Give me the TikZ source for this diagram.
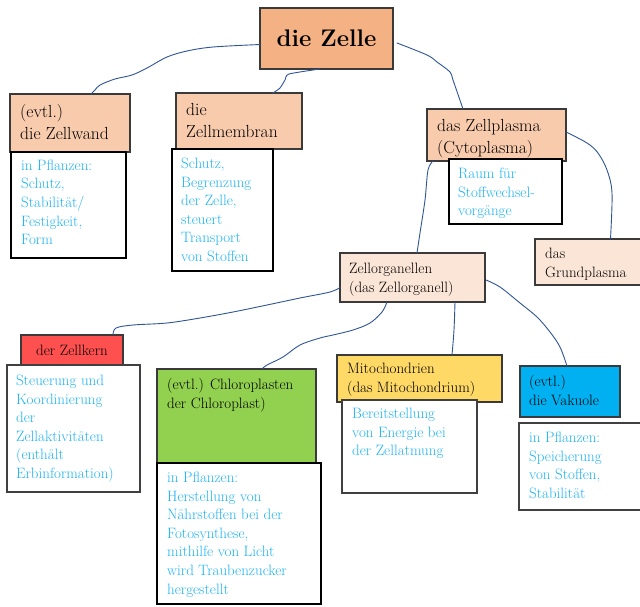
\documentclass[tikz,border=0pt]{standalone}
\usepackage{xcolor}
\definecolor{cZelle}{HTML}{F4B183}
\definecolor{cOrange}{HTML}{F8CBAD}
\definecolor{cLight}{HTML}{FBE5D6}
\definecolor{cRed}{HTML}{FF5050}
\definecolor{cGreen}{HTML}{92D050}
\definecolor{cYellow}{HTML}{FFD966}
\definecolor{cBlue}{HTML}{00B0F0}
\definecolor{cDesc}{HTML}{1CB4F4}
\definecolor{cLine}{HTML}{2F5597}
\definecolor{cBorder}{HTML}{3A3A3A}
\newcommand{\myfontA}{\fontsize{17.5}{22}\selectfont}
\newcommand{\myfontB}{\fontsize{15}{18.6}\selectfont}
\newcommand{\tp}{\rule{0pt}{0.75em}}
\begin{document}
\begin{tikzpicture}[x=1pt,y=-1pt,
  box/.style={draw=cBorder, line width=1.1pt, anchor=north west, inner sep=0pt, outer sep=0pt},
  descbox/.style={box, draw=black, fill=white},
  lblA/.style={anchor=north west, inner sep=0pt, align=left, font=\myfontA, text=black},
  lblB/.style={anchor=north west, inner sep=0pt, align=left, font=\myfontB, text=black},
  lblD/.style={anchor=north west, inner sep=0pt, align=left, font=\myfontB, text=cDesc},
  conn/.style={draw=cLine, line width=0.9pt, line cap=round, line join=round}]
\useasboundingbox (0,0) rectangle (640,606);
\fill[white] (0,0) rectangle (640,606);

% boxes
\node[box, fill=cZelle, minimum width=133pt, minimum height=61pt, font=\fontsize{24}{28}\selectfont\bfseries] (zelle) at (260,8) {die Zelle};
\node[box, fill=cOrange, minimum width=120pt, minimum height=58pt] (zellwand) at (10,94) {};
\node[descbox, minimum width=115pt, minimum height=106pt] (zellwandD) at (11,152) {};
\node[box, fill=cOrange, minimum width=126pt, minimum height=56pt] (zellmembran) at (176,93) {};
\node[descbox, minimum width=101pt, minimum height=122pt] (zellmembranD) at (172,149) {};
\node[box, fill=cOrange, minimum width=139pt, minimum height=52pt] (zellplasma) at (427,109) {};
\node[descbox, minimum width=113pt, minimum height=65pt] (raumD) at (449,159) {};
\node[box, fill=cLight, minimum width=108pt, minimum height=46pt] (grund) at (535,239) {};
\node[box, fill=cLight, minimum width=145pt, minimum height=49pt] (organ) at (340,253) {};
\node[box, fill=cRed, minimum width=102pt, minimum height=30pt, font=\myfontB] (kern) at (21,335) {der Zellkern};
\node[descbox, draw=black!75, minimum width=133pt, minimum height=127pt] (kernD) at (7,365) {};
\node[box, fill=cGreen, minimum width=159pt, minimum height=94pt] (chloro) at (157,369) {};
\node[descbox, minimum width=164pt, minimum height=141pt] (chloroD) at (157,463) {};
\node[box, fill=cYellow, minimum width=165pt, minimum height=47pt] (mito) at (337,355) {};
\node[descbox, draw=black!75, minimum width=135pt, minimum height=93pt] (mitoD) at (342,400) {};
\node[box, fill=cBlue, minimum width=100pt, minimum height=51pt] (vak) at (520,366) {};
\node[descbox, draw=black!75, minimum width=125pt, minimum height=87pt] (vakD) at (519,423) {};

% texts
\node[lblA] (tZellwand) at (20,104) {\tp(evtl.)\\die Zellwand};
\node[lblD] (tZellwandD) at (21,158.75) {\tp in Pflanzen:\\Schutz,\\Stabilität/\\Festigkeit,\\Form};
\node[lblA] (tZellmembran) at (186,102) {\tp die\\Zellmembran};
\node[lblD] (tZellmembranD) at (181,157) {\tp Schutz,\\Begrenzung\\der Zelle,\\steuert\\Transport\\von Stoffen};
\node[lblA] (tZellplasma) at (437,118) {\tp das Zellplasma\\(Cytoplasma)};
\node[lblD] (tRaum) at (458,167) {\tp Raum für\\Stoffwechsel-\\vorgänge};
\node[lblB] (tGrund) at (545,247) {\tp das\\Grundplasma};
\node[lblB] (tOrgan) at (349,262) {\tp Zellorganellen\\(das Zellorganell)};
\node[lblD] (tKernD) at (16,374) {\tp Steuerung und\\Koordinierung\\der\\Zellaktivitäten\\(enthält\\Erbinformation)};
\node[lblB] (tChloro) at (167,378) {\tp(evtl.) Chloroplasten\\der Chloroplast)};
\node[lblD] (tChloroD) at (167,471) {\tp in Pflanzen:\\Herstellung von\\Nährstoffen bei der\\Fotosynthese,\\mithilfe von Licht\\wird Traubenzucker\\hergestellt};
\node[lblB] (tMito) at (347,362) {\tp Mitochondrien\\(das Mitochondrium)};
\node[lblD] (tMitoD) at (352,407) {\tp Bereitstellung\\von Energie bei\\der Zellatmung};
\node[lblB] (tVak) at (529,375) {\tp(evtl.)\\die Vakuole};
\node[lblD] (tVakD) at (529,431) {\tp in Pflanzen:\\Speicherung\\von Stoffen,\\Stabilität};

% connectors
\draw[conn] plot[smooth, tension=0.55] coordinates {([yshift=-6pt]zelle.west) (213,47) (187,51) (167,57) (147,68) (132,75) (115,79) (100,85) (95,90) ([xshift=21pt]zellwand.north)};
\draw[conn] plot[smooth, tension=0.4] coordinates {([xshift=-6.5pt]zelle.south) (289,74) (285,80) (280,88) ([xshift=34pt]zellmembran.north)};
\draw[conn] plot[smooth, tension=0.55] coordinates {([yshift=-4.5pt,xshift=4pt]zelle.east) (427,55) (437,62) (450,72) (453,80) ([xshift=-33.5pt]zellplasma.north)};
\draw[conn] plot[smooth, tension=0.55] coordinates {([yshift=3pt]zellplasma.east) (587,143) (598,153) (607,170) (612,193) ([xshift=21.5pt]grund.north)};
\draw[conn] plot[smooth, tension=0.55] coordinates {([xshift=-63.5pt]zellplasma.south) (428,170) (425,200) (420,233) ([xshift=4.5pt]organ.north)};
\draw[conn] plot[smooth, tension=0.55] coordinates {([yshift=-10pt]organ.west) (330,292) (300,298) (267,305) (233,312) (200,318) (167,323) (133,325) (116,328) ([xshift=41pt]kern.north)};
\draw[conn] plot[smooth, tension=0.55] coordinates {([xshift=-25.5pt]organ.south) (382,312) (370,323) (353,330) (333,335) (320,338) (300,345) (283,357) (267,365) ([xshift=25.5pt]chloro.north)};
\draw[conn] plot[smooth, tension=0.55] coordinates {([xshift=42.5pt]organ.south) (454,330) ([xshift=32.5pt]mito.north)};
\draw[conn] plot[smooth, tension=0.55] coordinates {([yshift=-2.5pt,xshift=1pt]organ.east) (500,287) (520,303) (537,317) (550,332) (560,347) ([xshift=-3pt]vak.north)};
\end{tikzpicture}
\end{document}
